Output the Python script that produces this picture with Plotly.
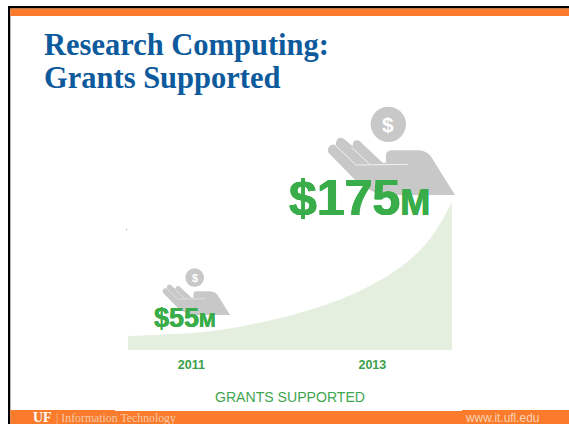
import plotly.graph_objects as go

W, H = 569, 424
years = [2010.30, 2010.65, 2011.0, 2011.33, 2011.65, 2012.20, 2012.76, 2013.31, 2013.64, 2013.88]
support = [16.5, 18, 20, 24, 30, 44, 65, 98, 132, 175]
tick_years = [2011, 2013]
tick_labels = ["2011", "2013"]
axis_title = "GRANTS SUPPORTED"
big_label, small_label = "$175", "$55"

ORANGE = "#f97b2b"
GREEN = "#38ad4a"
GREY = "#c8c8c8"
AREA = "#e5efe0"
BLUE = "#0d5a9c"


def px(x):
    return x / W


def py(y):
    return 1 - y / H


def rect(x0, y0, x1, y1, color):
    return dict(type="rect", xref="paper", yref="paper", x0=px(x0), x1=px(x1), y0=py(y0), y1=py(y1),
                fillcolor=color, line_width=0, layer="above")


def note(x, y, text, size, color, anchor="left", family="Liberation Sans", v="middle", shadow="none"):
    return dict(xref="paper", yref="paper", x=px(x), y=py(y), text=text, showarrow=False,
                xanchor=anchor, yanchor=v, font=dict(size=size, color=color, family=family, shadow=shadow),
                borderpad=0, borderwidth=0)


HAND = [("M", 147, 170), ("Q", 155, 160, 167, 165), ("Q", 168, 145, 180, 143), ("Q", 190, 142, 199, 153),
        ("L", 218, 168), ("Q", 218, 150, 232, 151), ("Q", 240, 152, 248, 162), ("L", 308, 218), ("L", 318, 218),
        ("L", 318, 195), ("Q", 318, 183, 335, 181), ("L", 415, 181), ("Q", 440, 183, 452, 198), ("L", 525, 315),
        ("L", 300, 315), ("L", 240, 285), ("L", 147, 190), ("Q", 140, 180, 147, 170)]
CREASES = [((165, 165), (225, 222)), ((215, 172), (268, 222)), ((225, 225), (385, 223))]


def hand(tip_x, tip_y, s):
    def tx(x, y):
        return (tip_x + (x - 525) / 3 * s, tip_y + (y - 315) / 3 * s)

    parts = []
    for seg in HAND:
        pts = []
        for i in range(1, len(seg), 2):
            a, b = tx(seg[i], seg[i + 1])
            pts.append(f"{px(a):.5f},{py(b):.5f}")
        parts.append(seg[0] + " ".join(pts))
    out = [dict(type="path", xref="paper", yref="paper", path=" ".join(parts) + " Z",
                fillcolor=GREY, line_width=0, layer="above")]
    for p, q in CREASES:
        a, b = tx(*p)
        c, d = tx(*q)
        out.append(dict(type="line", xref="paper", yref="paper", x0=px(a), y0=py(b), x1=px(c), y1=py(d),
                        line=dict(color="#f2f2f2", width=1.0 * s), layer="above"))
    cx, cy = tx(325, 103)
    r = 53 / 3 * s
    out.append(dict(type="circle", xref="paper", yref="paper", x0=px(cx - r), x1=px(cx + r), y0=py(cy - r), y1=py(cy + r),
                    fillcolor=GREY, line_width=0, layer="above"))
    return out, (cx, cy)


shapes = [
    rect(8, 6, W, 8.5, "#000000"),
    rect(8, 6, 10.3, H, "#000000"),
    rect(10.3, 8.5, W, 16, ORANGE),
    rect(10.3, 410, W, H, ORANGE),
    rect(115, 410, 462, 411, "#ffffff"),
    rect(126, 229, 127, 230, "#7ba6c9"),
]
s1, c1 = hand(455, 195, 1.0)
s2, c2 = hand(230, 315, 0.53)
shapes += s1 + s2

BOLD_BIG = f"0.6px 0 0 {GREEN}, -0.6px 0 0 {GREEN}, 0 0.4px 0 {GREEN}"
BOLD_SMALL = f"0.3px 0 0 {GREEN}, -0.3px 0 0 {GREEN}"

annotations = [
    note(44, 44.5, "<b>Research Computing:</b>", 30.5, BLUE, family="Liberation Serif"),
    note(44, 78.5, "<b>Grants Supported</b>", 30.5, BLUE, family="Liberation Serif"),
    note(c1[0], c1[1], "<b>$</b>", 21, "#ffffff", "center"),
    note(c2[0], c2[1], "<b>$</b>", 11, "#ffffff", "center"),
    note(289, 198, f"<b>{big_label}<span style='font-size:36px'>M</span></b>", 50, GREEN, shadow=BOLD_BIG),
    note(154, 318, f"<b>{small_label}<span style='font-size:20px'>M</span></b>", 27, GREEN, shadow=BOLD_SMALL),
    note(33, 417.5, "<b>UF</b>", 14, "#ffffff", family="Liberation Serif"),
    note(56, 418, "| Information Technology", 11.8, "#f7c9a8", family="Liberation Serif"),
    note(465, 418, "www.it.ufl.edu", 11.9, "#fbd3b5"),
]

fig = go.Figure(go.Scatter(x=years, y=support, mode="lines", fill="tozeroy", fillcolor=AREA,
                           line=dict(width=0, shape="spline", color=AREA), hoverinfo="skip"))
fig.update_layout(
    width=W, height=H, margin=dict(l=0, r=0, t=0, b=0), autosize=False,
    paper_bgcolor="#ffffff", plot_bgcolor="rgba(0,0,0,0)", showlegend=False,
    shapes=shapes, annotations=annotations,
    xaxis=dict(domain=[128 / W, 452 / W], range=[2010.30, 2013.88], tickmode="array", tickvals=tick_years,
               ticktext=tick_labels, showgrid=False, zeroline=False, showline=False, ticks="",
               ticklabelstandoff=5,
               tickfont=dict(size=12.5, color="#3aa14a", family="Liberation Sans", weight="bold"),
               title=dict(text=axis_title, standoff=21, font=dict(size=14.1, color="#3fa650", family="Liberation Sans"))),
    yaxis=dict(domain=[1 - 350 / H, 1 - 197 / H], range=[0, 181], visible=False),
)
fig.write_html("out.html", config={"displayModeBar": False},
               post_script="document.body.style.margin='0';document.documentElement.style.overflow='hidden';")
